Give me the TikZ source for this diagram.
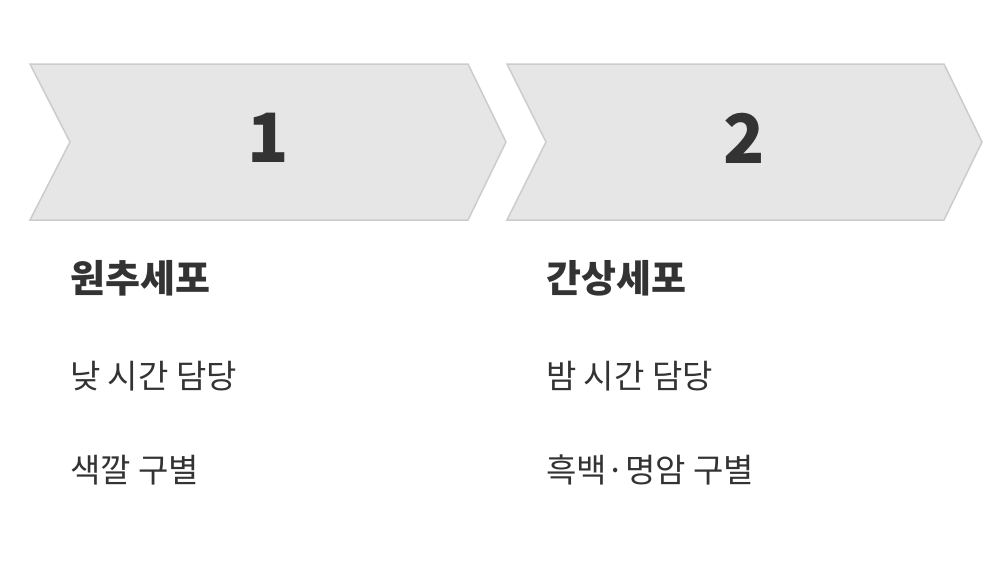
\documentclass[tikz,border=0pt]{standalone}
\usepackage{fontspec}
\setmainfont{Noto Sans CJK KR}
\definecolor{chev}{HTML}{E6E6E6}
\definecolor{chevline}{HTML}{CCCCCC}
\definecolor{txt}{HTML}{333333}
\begin{document}
\begin{tikzpicture}[x=1pt,y=-1pt,
  chevron/.style={fill=chev,draw=chevline,line width=1.5pt,line join=miter},
  num/.style={text=txt,font=\fontsize{68}{70}\selectfont\bfseries},
  ttl/.style={anchor=west,text=txt,font=\fontsize{38}{40}\selectfont\bfseries,inner sep=0pt},
  body/.style={anchor=west,text=txt,font=\fontsize{33}{36}\selectfont,inner sep=0pt}]
\useasboundingbox[fill=white] (0,0) rectangle (998,570);
\draw[chevron] (30,64) -- (468,64) -- (506,142) -- (468,220) -- (30,220) -- (70,142) -- cycle;
\draw[chevron] (507,64) -- (944,64) -- (982,142) -- (944,220) -- (507,220) -- (546,142) -- cycle;
\node[num] (n1) at (268,138) {1};
\node[num] (n2) at (744,138) {2};
\node[ttl] (t1) at (70,278) {원추세포};
\node[ttl] (t2) at (546,278) {간상세포};
\node[body] (a1) at (70,376) {낮 시간 담당};
\node[body] (b1) at (70,470) {색깔 구별};
\node[body] (a2) at (546,376) {밤 시간 담당};
\node[body] (b2) at (546,470) {흑백·명암 구별};
\end{tikzpicture}
\end{document}
